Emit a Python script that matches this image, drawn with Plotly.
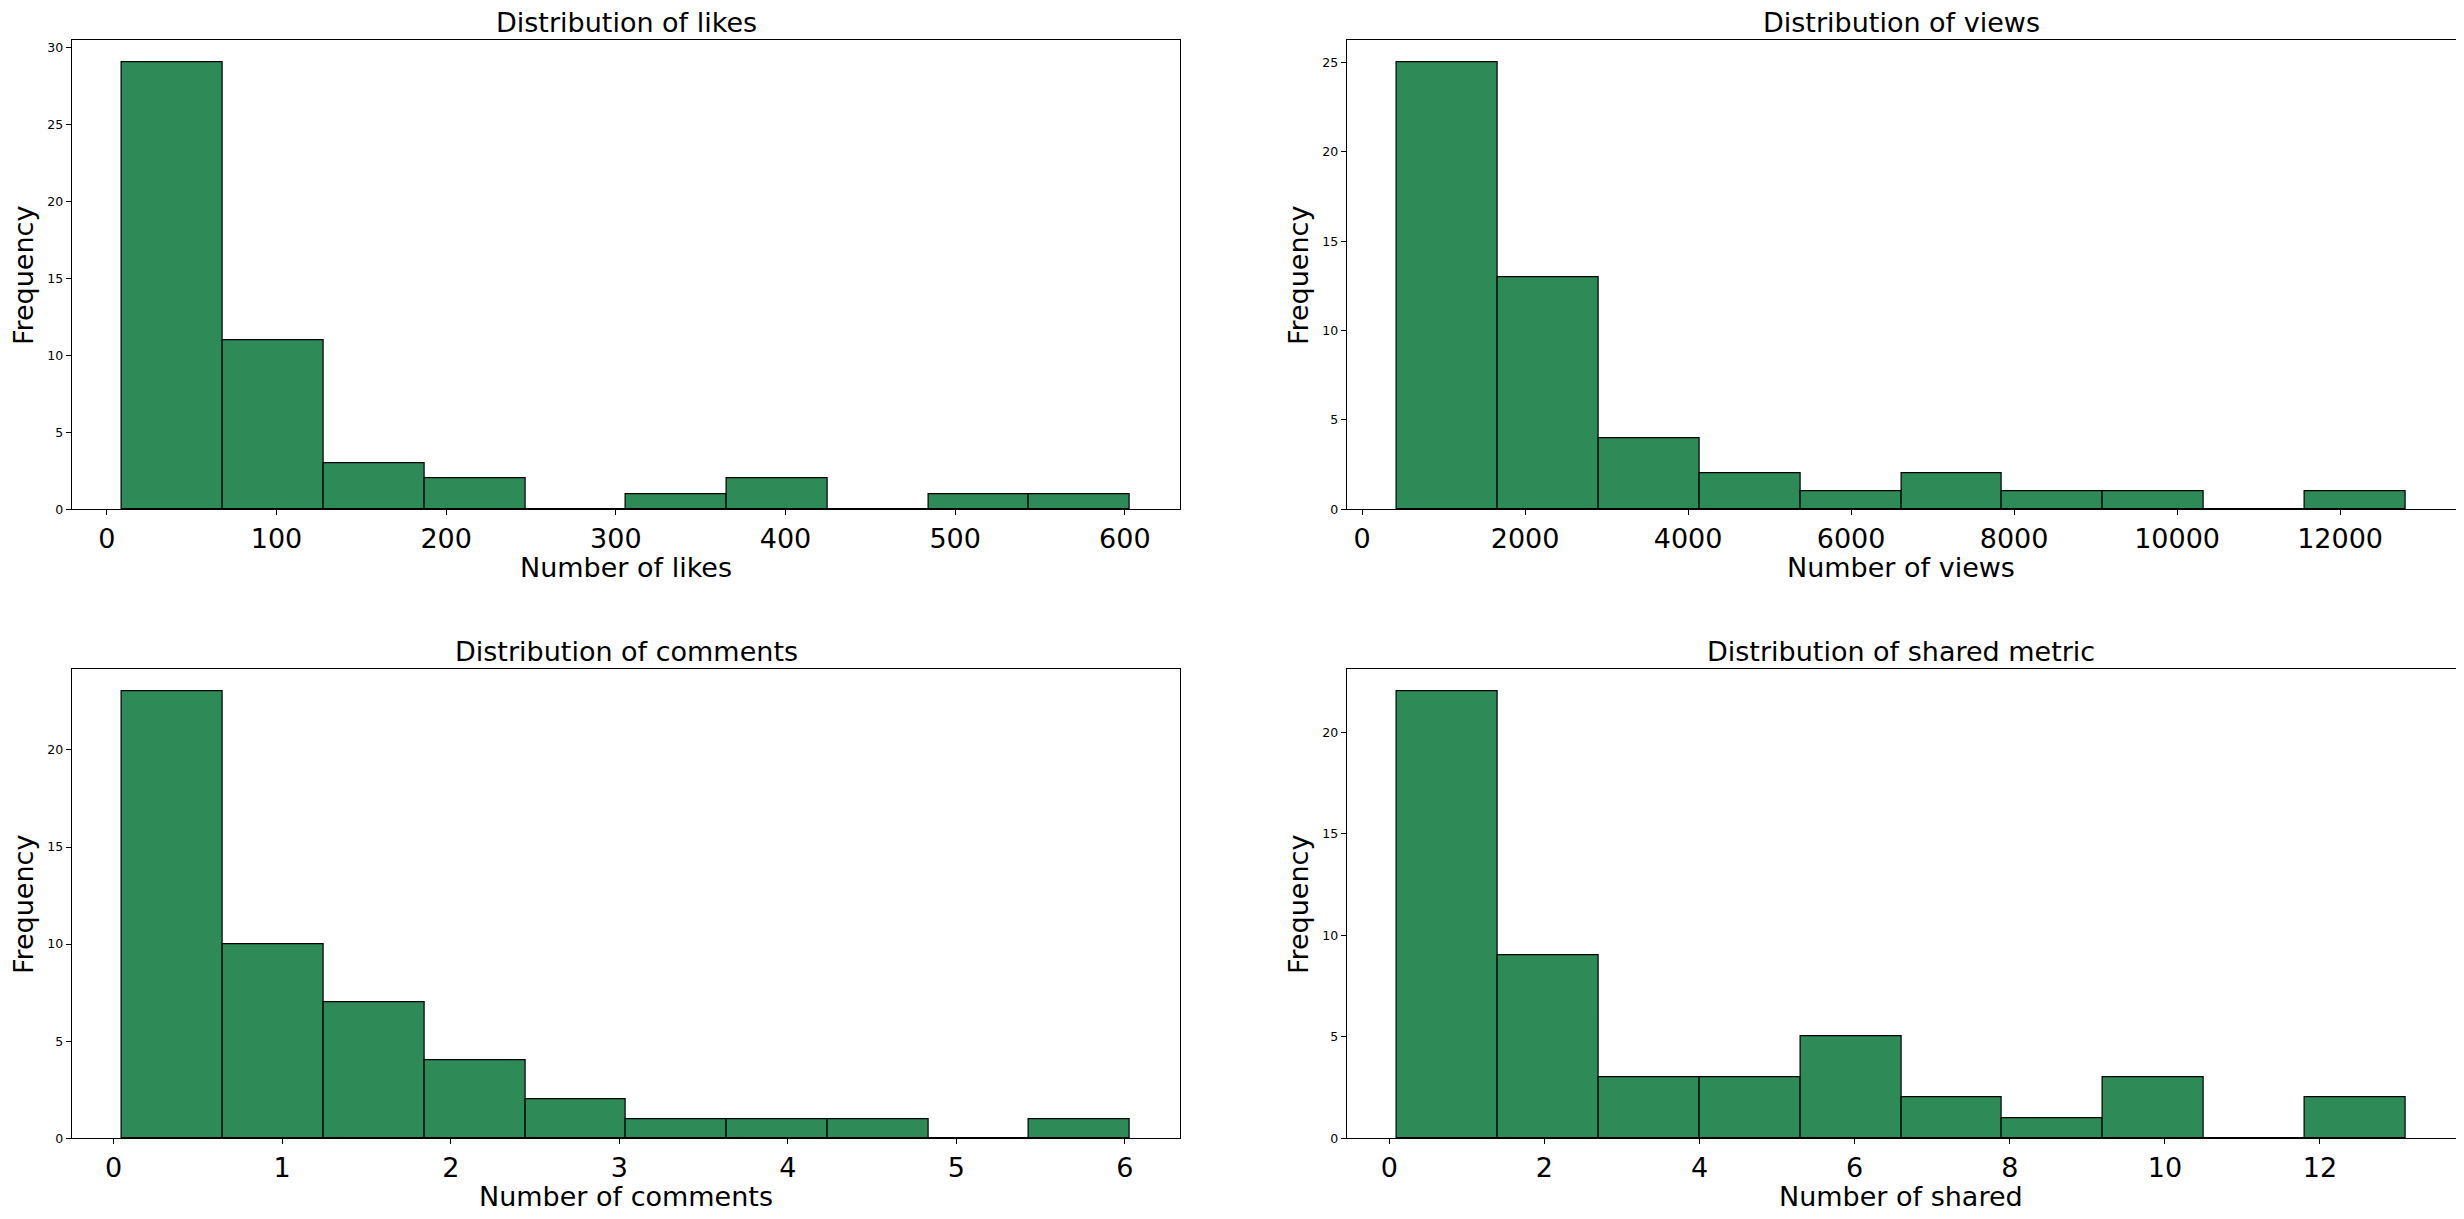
import numpy as np
import plotly.graph_objects as go

# ---------------- data ----------------
likes_counts = [29, 11, 3, 2, 0, 1, 2, 0, 1, 1]
likes_range = [9, 603]
views_counts = [25, 13, 4, 2, 1, 2, 1, 1, 0, 1]
views_range = [430, 12800]
comments_counts = [23, 10, 7, 4, 2, 1, 1, 1, 0, 1]
comments_range = [0.05, 6.03]
shared_counts = [22, 9, 3, 3, 5, 2, 1, 3, 0, 2]
shared_range = [0.1, 13.1]

titles = ["Distribution of likes", "Distribution of views",
          "Distribution of comments", "Distribution of shared metric"]
xlabels = ["Number of likes", "Number of views",
           "Number of comments", "Number of shared"]
ylabel = "Frequency"

likes_xticks = [0, 100, 200, 300, 400, 500, 600]
views_xticks = [0, 2000, 4000, 6000, 8000, 10000, 12000]
comments_xticks = [0, 1, 2, 3, 4, 5, 6]
shared_xticks = [0, 2, 4, 6, 8, 10, 12]
likes_yticks = [0, 5, 10, 15, 20, 25, 30]
views_yticks = [0, 5, 10, 15, 20, 25]
comments_yticks = [0, 5, 10, 15, 20]
shared_yticks = [0, 5, 10, 15, 20]

panels = [
    (likes_counts, likes_range, likes_xticks, likes_yticks),
    (views_counts, views_range, views_xticks, views_yticks),
    (comments_counts, comments_range, comments_xticks, comments_yticks),
    (shared_counts, shared_range, shared_xticks, shared_yticks),
]

# ---------------- layout geometry (screen pixels) ----------------
OFF = 8          # default body margin of the page
FW, FH = 2448, 1203
FONT = "DejaVu Sans"
BAR_COLOR = "#2E8B57"

boxes = [
    (71.7, 40.3, 1180.3, 509.3),
    (1346.7, 40.3, 2455.7, 509.3),
    (71.7, 669.3, 1180.3, 1138.3),
    (1346.7, 669.3, 2455.7, 1138.3),
]


def px_x(X):
    return (X - OFF) / FW


def px_y(Y):
    return 1 - (Y - OFF) / FH


fig = go.Figure()
layout = dict(
    width=FW, height=FH,
    margin=dict(l=0, r=0, t=0, b=0),
    paper_bgcolor="white", plot_bgcolor="white",
    showlegend=False, bargap=0,
    font=dict(family=FONT, color="black"),
    annotations=[],
)

for i, (counts, rng, xt, yt) in enumerate(panels):
    n = len(counts)
    edges = np.linspace(rng[0], rng[1], n + 1)
    centers = (edges[:-1] + edges[1:]) / 2
    widths = np.diff(edges)
    k = "" if i == 0 else str(i + 1)
    fig.add_trace(go.Bar(
        x=centers, y=counts, width=widths,
        marker=dict(color=BAR_COLOR, line=dict(color="black", width=1.2)),
        xaxis="x" + k, yaxis="y" + k, hoverinfo="x+y",
    ))
    span = rng[1] - rng[0]
    x0, y0, x1, y1 = boxes[i]
    common = dict(showgrid=False, zeroline=False, showline=True, linecolor="black",
                  linewidth=1, mirror=True, ticks="outside", ticklen=5, tickwidth=1,
                  tickcolor="black", automargin=False)
    layout["xaxis" + k] = dict(
        common, domain=[px_x(x0), px_x(x1)], anchor="y" + k,
        range=[rng[0] - 0.05 * span, rng[1] + 0.05 * span],
        tickmode="array", tickvals=xt, ticktext=[str(v) for v in xt],
        tickfont=dict(size=27, family=FONT, color="black"),
    )
    layout["yaxis" + k] = dict(
        common, domain=[px_y(y1), px_y(y0)], anchor="x" + k,
        range=[0, max(counts) * 1.05],
        tickmode="array", tickvals=yt, ticktext=[str(v) for v in yt],
        tickfont=dict(size=12.5, family=FONT, color="black"),
    )
    cx = px_x((x0 + x1) / 2)
    # title
    layout["annotations"].append(dict(
        text=titles[i], xref="paper", yref="paper", x=cx, y=px_y(y0 - 8 + 7.5),
        xanchor="center", yanchor="bottom", showarrow=False,
        font=dict(size=27, family=FONT, color="black")))
    # x label
    layout["annotations"].append(dict(
        text=xlabels[i], xref="paper", yref="paper", x=cx, y=px_y(y1 + 41),
        xanchor="center", yanchor="top", showarrow=False,
        font=dict(size=27, family=FONT, color="black")))
    # y label
    layout["annotations"].append(dict(
        text=ylabel, xref="paper", yref="paper", x=px_x(x0 - 48.4),
        y=px_y((y0 + y1) / 2), xanchor="center", yanchor="middle",
        textangle=-90, showarrow=False,
        font=dict(size=27, family=FONT, color="black")))

fig.update_layout(**layout)
fig.write_html("out.html")
